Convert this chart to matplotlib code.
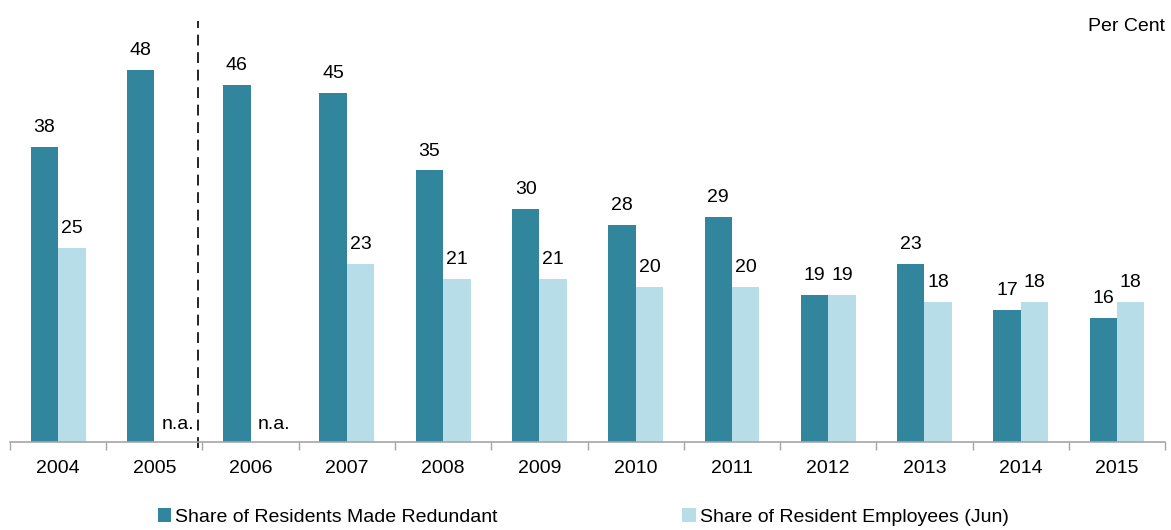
import numpy as np
import matplotlib.pyplot as plt

plt.rcParams['font.family'] = ['Liberation Sans', 'DejaVu Sans']

years = ['2004', '2005', '2006', '2007', '2008', '2009', '2010', '2011',
         '2012', '2013', '2014', '2015']
redundant = [38, 48, 46, 45, 35, 30, 28, 29, 19, 23, 17, 16]
employees = [25, None, None, 23, 21, 21, 20, 20, 19, 18, 18, 18]

dark = '#31859C'
light = '#B7DEE8'
fs = 14

fig = plt.figure(figsize=(11.71, 5.30), dpi=100)
ax = fig.add_axes([0.0085, 0.166, 0.9865, 0.82])

x = np.arange(len(years))
w = 0.285

ax.bar(x - w / 2, redundant, w, color=dark, label='Share of Residents Made Redundant')
emp_vals = [v if v is not None else 0 for v in employees]
ax.bar(x + w / 2, emp_vals, w, color=light, label='Share of Resident Employees (Jun)')

for i, v in enumerate(redundant):
    ax.text(x[i] - w / 2, v + 1.4, str(v), ha='center', va='bottom', fontsize=fs)
for i, v in enumerate(employees):
    if v is None:
        ax.text(x[i] + w / 2 + 0.1, 1.2, 'n.a.', ha='center', va='bottom', fontsize=fs)
    else:
        ax.text(x[i] + w / 2, v + 1.4, str(v), ha='center', va='bottom', fontsize=fs)

# break in the series between 2005 and 2006
ax.plot([1.455, 1.455], [-0.8, 54.3], color='black', lw=1.2, ls=(0, (6.5, 4)),
        clip_on=False)

ax.set_xlim(-0.5, len(years) - 0.5)
ax.set_ylim(0, 56)
ax.set_xticks(x)
ax.set_xticklabels(years, fontsize=fs)
ax.set_xticks(np.arange(-0.5, len(years)), minor=True)
ax.tick_params(axis='x', which='major', length=0, pad=13)
ax.tick_params(axis='x', which='minor', length=6, color='#A6A6A6', width=1)
ax.set_yticks([])
for s in ['left', 'right', 'top']:
    ax.spines[s].set_visible(False)
ax.spines['bottom'].set_color('#A6A6A6')
ax.spines['bottom'].set_linewidth(1.2)

ax.text(1.0, 0.975, 'Per Cent', transform=ax.transAxes, ha='right', va='top',
        fontsize=fs)

fig.legend(loc='center', bbox_to_anchor=(0.498, 0.024), ncol=2, frameon=False,
           fontsize=fs, handlelength=0.7, handleheight=0.7, handletextpad=0.2,
           columnspacing=9.5)

fig.savefig('out.png', dpi=100)
